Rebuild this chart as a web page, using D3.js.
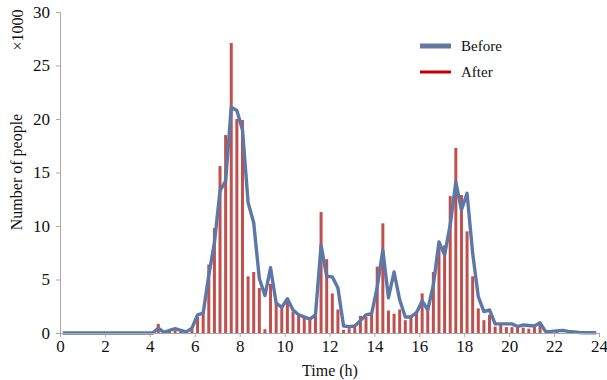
<!DOCTYPE html>
<html lang="en">
<head>
<meta charset="UTF-8">
<title>Number of people by time</title>
<script src="https://d3js.org/d3.v7.min.js"></script>
<style>
  html, body { margin: 0; padding: 0; background: #fff; }
  svg { display: block; font-family: "Liberation Serif", "DejaVu Serif", serif; }
</style>
</head>
<body>
<svg id="chart" width="607" height="380"></svg>
<script>
  // 15-minute bins, value at bin centre (thousands of people)
  const binStart = 0.125;
  const binStep = 0.25;

  const before = [
    0, 0, 0, 0, 0, 0, 0, 0, 0, 0, 0, 0, 0, 0, 0, 0,           // 0-4h
    0, 0.45, 0.05, 0.25, 0.4, 0.25, 0.1, 0.45,               // 4-6h
    1.7, 1.85, 5.4, 8.4, 13.3, 14.2, 21.1, 20.8,             // 6-8h
    19.0, 12.2, 10.3, 5.1, 3.5, 6.1, 2.8, 2.4,               // 8-10h
    3.2, 2.15, 1.7, 1.5, 1.3, 1.7, 8.2, 5.3,                 // 10-12h
    5.25, 4.2, 0.65, 0.6, 0.65, 1.15, 1.7, 1.8,              // 12-14h
    4.3, 7.75, 3.3, 5.7, 3.1, 1.5, 1.5, 1.9,                 // 14-16h
    3.0, 2.15, 4.5, 8.5, 7.3, 10.1, 14.1, 11.5,              // 16-18h
    13.05, 7.45, 3.4, 2.0, 2.15, 0.85, 0.85, 0.85,           // 18-20h
    0.85, 0.6, 0.75, 0.7, 0.65, 0.95, 0.12, 0.15,            // 20-22h
    0.2, 0.25, 0.15, 0.1, 0.05, 0.02, 0.02, 0.02             // 22-24h
  ];

  const after = [
    0, 0, 0, 0, 0, 0, 0, 0, 0, 0, 0, 0, 0, 0, 0, 0,
    0, 0.85, 0.1, 0.15, 0.25, 0.1, 0.1, 0.4,
    1.5, 2.0, 6.4, 9.8, 15.6, 18.5, 27.1, 20.0,
    19.9, 5.3, 5.7, 4.2, 0.35, 4.6, 2.8, 2.6,
    3.1, 2.0, 1.7, 1.5, 1.5, 1.7, 11.3, 6.9,
    3.7, 2.2, 0.3, 0.45, 0.6, 1.6, 1.5, 1.7,
    6.2, 10.25, 2.1, 1.8, 2.2, 1.2, 1.5, 2.0,
    3.7, 2.4, 5.7, 8.4, 8.2, 12.8, 17.3, 12.9,
    9.5, 5.3, 2.3, 1.2, 1.7, 0.6, 0.75, 0.55,
    0.55, 0.5, 0.5, 0.4, 0.55, 0.75, 0, 0,
    0.1, 0, 0, 0, 0, 0, 0, 0
  ];

  const xTicks = [0, 2, 4, 6, 8, 10, 12, 14, 16, 18, 20, 22, 24];
  const yTicks = [0, 5, 10, 15, 20, 25, 30];
  const seriesNames = ["Before", "After"];

  const blue = "#5d78a6";
  const red = "#c0504d";
  const serif = "'Liberation Serif', 'DejaVu Serif', serif";

  const svg = d3.select("#chart");

  const x = d3.scaleLinear().domain([0, 24]).range([60, 599]);
  const y = d3.scaleLinear().domain([0, 30]).range([333, 12]);

  const t = i => binStart + i * binStep;

  // bars (After)
  svg.append("g")
    .selectAll("rect")
    .data(after)
    .join("rect")
    .attr("x", (d, i) => x(t(i)) - 1.5)
    .attr("y", d => y(d))
    .attr("width", 3)
    .attr("height", d => y(0) - y(d))
    .attr("fill", red);

  // line (Before)
  const line = d3.line()
    .x((d, i) => x(t(i)))
    .y(d => y(d));

  svg.append("path")
    .datum(before)
    .attr("d", line)
    .attr("fill", "none")
    .attr("stroke", blue)
    .attr("stroke-width", 3.4)
    .attr("stroke-linejoin", "round");

  // axes
  const xAxis = svg.append("g")
    .attr("transform", "translate(0,333)")
    .call(d3.axisBottom(x).tickValues(xTicks).tickSize(4).tickPadding(3));

  const yAxis = svg.append("g")
    .attr("transform", "translate(60,0)")
    .call(d3.axisLeft(y).tickValues(yTicks).tickSize(4).tickPadding(6));

  [xAxis, yAxis].forEach(a => {
    a.attr("font-family", serif).attr("font-size", 17);
    a.select(".domain").attr("stroke", "#a8a8a8");
    a.selectAll(".tick line").attr("stroke", "#a8a8a8");
    a.selectAll(".tick text").attr("fill", "#111");
  });

  // axis titles
  svg.append("text")
    .attr("x", 330)
    .attr("y", 376)
    .attr("text-anchor", "middle")
    .attr("fill", "#111")
    .style("font-size", "16px")
    .text("Time (h)");

  svg.append("text")
    .attr("transform", "translate(22,172) rotate(-90)")
    .attr("text-anchor", "middle")
    .attr("fill", "#111")
    .style("font-size", "16px")
    .text("Number of people");

  svg.append("text")
    .attr("transform", "translate(23,30) rotate(-90)")
    .attr("text-anchor", "middle")
    .attr("fill", "#111")
    .style("font-size", "16px")
    .text("×1000");

  // legend
  const legend = svg.append("g");
  legend.selectAll("line")
    .data(seriesNames)
    .join("line")
    .attr("x1", 420)
    .attr("x2", 451)
    .attr("y1", (d, i) => 46 + i * 26)
    .attr("y2", (d, i) => 46 + i * 26)
    .attr("stroke", (d, i) => i === 0 ? "#6478a2" : "#c00000")
    .attr("stroke-width", (d, i) => i === 0 ? 5 : 3);

  legend.selectAll("text")
    .data(seriesNames)
    .join("text")
    .attr("x", 461)
    .attr("y", (d, i) => 46 + i * 26)
    .attr("dy", "0.35em")
    .attr("fill", "#111")
    .style("font-size", "15px")
    .text(d => d);
</script>
</body>
</html>
